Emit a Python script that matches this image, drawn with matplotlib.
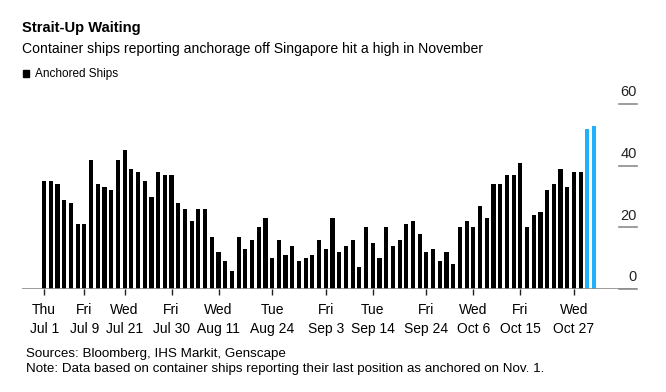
import matplotlib.pyplot as plt
import matplotlib.transforms as mtransforms

plt.rcParams['font.family'] = ['Liberation Sans', 'DejaVu Sans']

# anchored container ships, one value per report (last two = November highs)
ships = [35, 35, 34, 29, 28, 21, 21, 42, 34, 33, 32, 42, 45, 39, 38, 35, 30, 38, 37, 37,
         28, 26, 22, 26, 26, 17, 12, 9,
         6, 17, 13, 16, 20, 23, 10, 16, 11, 14, 9, 10, 11, 16, 13, 23, 12, 14, 16, 7,
         20, 15, 10, 20, 14, 16, 21, 22, 18,
         12, 13, 9, 12, 8, 20, 22, 20, 27, 23, 34, 34, 37, 37, 41, 20, 24, 25, 32, 34,
         39, 33, 38, 38, 52, 53]
highlight = [81, 82]

tick_index = [0, 6, 12, 19, 26, 34, 42, 49, 57, 64, 71, 79]
tick_days = ["Thu", "Fri", "Wed", "Fri", "Wed", "Tue", "Fri", "Tue", "Fri", "Wed", "Fri", "Wed"]
tick_dates = ["Jul 1", "Jul 9", "Jul 21", "Jul 30", "Aug 11", "Aug 24", "Sep 3", "Sep 14",
              "Sep 24", "Oct 6", "Oct 15", "Oct 27"]
y_ticks = [0, 20, 40, 60]

BLACK = "#000000"
BLUE = "#1fb2fb"
GREY = "#8c8c8c"

W, H = 666, 392
fig = plt.figure(figsize=(W / 100, H / 100), dpi=100)


def px(x, y):
    return x / W, 1 - y / H


left, right, top, bottom = 22, 637, 104.3, 289
ax = fig.add_axes([left / W, 1 - bottom / H, (right - left) / W, (bottom - top) / H])

x = list(range(len(ships)))
colors = [BLUE if i in highlight else BLACK for i in x]
ax.bar(x, ships, width=0.62, color=colors, linewidth=0)

ax.set_xlim(-3.3, 88.4)
ax.set_ylim(0, 60)
for s in ax.spines.values():
    s.set_visible(False)
ax.axhline(0, color=GREY, lw=1.2, zorder=3)

ax.set_xticks(tick_index, [d + "\n" + t for d, t in zip(tick_days, tick_dates)])
ax.tick_params(axis="x", direction="out", length=4, width=1, color="#222222",
               pad=6, labelsize=10)
for lbl in ax.get_xticklabels():
    lbl.set_linespacing(1.45)
ax.set_yticks([])

# right-hand value scale: short lines with labels sitting above them
trans = mtransforms.blended_transform_factory(ax.transAxes, ax.transData)
x0 = (619 - left) / (right - left)
for v in y_ticks:
    ax.plot([x0, 1.0], [v, v], color=GREY, lw=1.2, transform=trans, clip_on=False)
    ax.text(1.0, v + 1.6, str(v), transform=trans, ha="right", va="bottom",
            fontsize=10.5, color="#222222")

# titles and legend
fig.text(*px(22, 28), "Strait-Up Waiting", fontsize=10.6, fontweight="bold",
         va="center", ha="left")
fig.text(*px(22, 49.5), "Container ships reporting anchorage off Singapore hit a high in November",
         fontsize=10.1, va="center", ha="left")
fig.patches.append(plt.Rectangle(px(22.7, 77.3), 6.7 / W, 7.3 / H, color=BLACK,
                                 transform=fig.transFigure, figure=fig))
fig.text(*px(35, 73.8), "Anchored Ships", fontsize=8.5, va="center", ha="left")

fig.text(*px(26.5, 354), "Sources: Bloomberg, IHS Markit, Genscape", fontsize=9.6,
         va="center", ha="left")
fig.text(*px(26.5, 369), "Note: Data based on container ships reporting their last position as anchored on Nov. 1.",
         fontsize=9.6, va="center", ha="left")

fig.savefig("out.png", dpi=100)
